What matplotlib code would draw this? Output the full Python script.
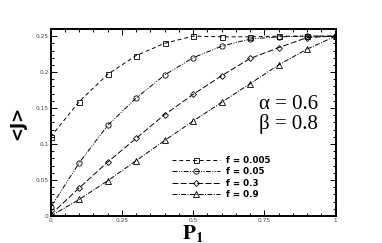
import matplotlib
matplotlib.use('Agg')
import matplotlib.pyplot as plt
from matplotlib.ticker import MultipleLocator, FuncFormatter
import numpy as np

plt.rcParams['mathtext.fontset'] = 'stix'

# Data
p1 = [0.0, 0.1, 0.2, 0.3, 0.4, 0.5, 0.6, 0.7, 0.8, 0.9, 1.0]
J_f0005 = [0.110, 0.159, 0.197, 0.223, 0.240, 0.250, 0.249, 0.249, 0.250, 0.250, 0.250]
J_f005 = [0.012, 0.074, 0.126, 0.164, 0.196, 0.220, 0.236, 0.246, 0.249, 0.250, 0.250]
J_f03 = [0.002, 0.039, 0.075, 0.108, 0.141, 0.169, 0.195, 0.219, 0.234, 0.248, 0.250]
J_f09 = [0.000, 0.023, 0.049, 0.077, 0.105, 0.132, 0.158, 0.184, 0.210, 0.232, 0.250]
labels = ['f = 0.005', 'f = 0.05', 'f = 0.3', 'f = 0.9']

fig = plt.figure(figsize=(3.82, 2.43), dpi=100)
ax = fig.add_axes([0.1327, 0.111, 0.746, 0.770])

styles = [
    dict(ls=(0, (4, 3)), marker='s', ms=3.6),
    dict(ls=(0, (5, 1.5, 1, 1.5, 1, 1.5)), marker='o', ms=3.8),
    dict(ls=(0, (6, 2.5)), marker='D', ms=3.0),
    dict(ls=(0, (5, 1.5, 1, 1.5)), marker='^', ms=3.8),
]
for y, lab, st in zip([J_f0005, J_f005, J_f03, J_f09], labels, styles):
    ax.plot(p1, y, color='black', lw=0.7, ls=st['ls'], marker=st['marker'],
            ms=st['ms'], mfc='none', mec='black', mew=0.6, label=lab)

ax.set_xlim(0, 1)
ax.set_ylim(0, 0.26)
ax.xaxis.set_major_locator(MultipleLocator(0.25))
ax.xaxis.set_minor_locator(MultipleLocator(0.05))
ax.yaxis.set_major_locator(MultipleLocator(0.05))
ax.yaxis.set_minor_locator(MultipleLocator(0.01))
fmt = FuncFormatter(lambda v, pos: ('%g' % round(v, 3)))
ax.xaxis.set_major_formatter(fmt)
ax.yaxis.set_major_formatter(fmt)
ax.tick_params(which='both', direction='in', top=True, right=True,
               labelsize=4.2, labelcolor='#444444', width=0.7, pad=1.5)
ax.tick_params(which='major', length=4)
ax.tick_params(which='minor', length=2)
for s in ax.spines.values():
    s.set_linewidth(1.4)

ax.set_ylabel('<J>', fontsize=12, fontweight='bold', labelpad=7)
ax.set_xlabel(r'$\mathbf{P_1}$', fontsize=15, labelpad=0)

ax.text(0.835, 0.54, 'α = 0.6\nβ = 0.8',
        transform=ax.transAxes, fontsize=15, family='Liberation Serif',
        ha='center', va='center', linespacing=1.0)

ax.legend(loc='lower right', bbox_to_anchor=(0.785, 0.065), frameon=False,
          prop={'size': 6.3, 'weight': 'bold'}, handlelength=5.5, numpoints=1,
          handletextpad=0.6, labelspacing=0.3, borderpad=0)

fig.savefig('out.png', dpi=100)
